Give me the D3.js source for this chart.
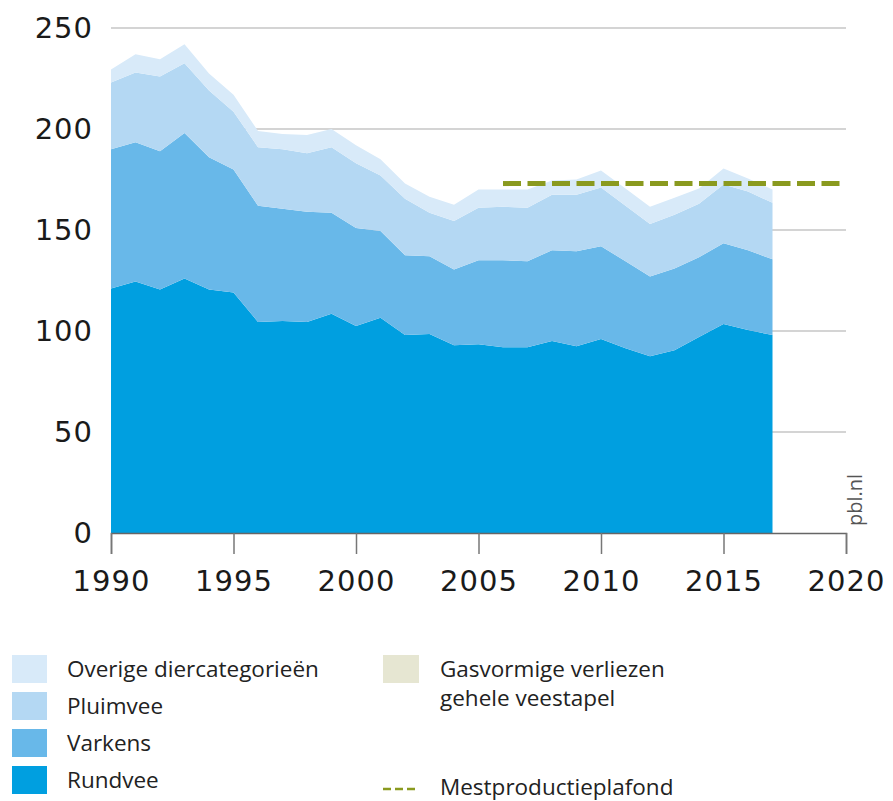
<!DOCTYPE html>
<html>
<head>
<meta charset="utf-8">
<script src="https://cdn.jsdelivr.net/npm/d3@7"></script>
<style>
  body { margin: 0; background: #fff; }
  svg { display: block; }
</style>
</head>
<body>
<div id="chart"></div>
<script>
// Years and series (kt N / jaar)
const years = d3.range(1990, 2018);
const rundvee  = [121, 124.5, 120.5, 126, 120.5, 119, 104.5, 105, 104.5, 108.5, 102.5, 106.5, 98, 98.5, 93, 93.5, 92, 92, 95, 92.5, 96, 91.5, 87.5, 90.5, 97, 103.5, 100.5, 98];
const varkens  = [69, 69, 68.5, 72, 65.5, 61, 57.5, 55.5, 54.5, 50, 48.5, 43, 39.5, 38.5, 37.5, 41.5, 43, 42.5, 45, 47, 46, 43, 39.5, 40.5, 39.5, 40, 39.5, 37.5];
const pluimvee = [33, 34.5, 37, 34.5, 33, 28.5, 29, 29.5, 29, 32.5, 32, 27.5, 28, 21.5, 24, 26, 26.5, 26.5, 27.5, 28, 29, 27.5, 26, 26.5, 26.5, 29, 29, 28];
const overige  = [6.5, 9, 8.5, 9.5, 8.5, 8.5, 8, 7.5, 9, 9, 9, 8, 7.5, 8, 8, 9, 8.5, 9, 7, 7.5, 8.5, 8.5, 8.5, 8.5, 7.5, 8, 6.5, 6.5];

const plafondYears = [2006, 2020];
const plafondValue = 173;

const yTicks = [0, 50, 100, 150, 200, 250];
const xTicks = [1990, 1995, 2000, 2005, 2010, 2015, 2020];

const keys = ["Rundvee", "Varkens", "Pluimvee", "Overige diercategorieën"];
const colors = ["#009fe0", "#68b8e9", "#b4d8f3", "#d8eaf9"];

const width = 893;
const height = 801;

const svg = d3.select("#chart")
  .append("svg")
  .attr("width", width)
  .attr("height", height);

const x = d3.scaleLinear().domain([1990, 2020]).range([111, 846]);
const y = d3.scaleLinear().domain([0, 250]).range([533, 28]);

// table for the stack
const table = years.map((yr, i) => ({
  year: yr,
  "Rundvee": rundvee[i],
  "Varkens": varkens[i],
  "Pluimvee": pluimvee[i],
  "Overige diercategorieën": overige[i]
}));

// gridlines
svg.append("g")
  .selectAll("line")
  .data(yTicks.filter(d => d > 0))
  .enter()
  .append("line")
  .attr("x1", x(1990))
  .attr("x2", x(2020))
  .attr("y1", d => y(d))
  .attr("y2", d => y(d))
  .attr("stroke", "#d4d4d4")
  .attr("stroke-width", 2);

// stacked areas
const stack = d3.stack().keys(keys);
const series = stack(table);

const area = d3.area()
  .x(d => x(d.data.year))
  .y0(d => y(d[0]))
  .y1(d => y(d[1]));

svg.append("g")
  .selectAll("path")
  .data(series)
  .enter()
  .append("path")
  .attr("d", area)
  .attr("fill", (d, i) => colors[i]);

// mestproductieplafond
svg.append("line")
  .attr("x1", x(plafondYears[0]))
  .attr("x2", x(plafondYears[1]) - 4)
  .attr("y1", y(plafondValue))
  .attr("y2", y(plafondValue))
  .attr("stroke", "#8a9a1f")
  .attr("stroke-width", 5)
  .attr("stroke-dasharray", "18,6.5");

// x axis
const xAxis = svg.append("g")
  .attr("transform", `translate(0, ${y(0)})`)
  .call(d3.axisBottom(x).tickValues(xTicks).tickFormat(d3.format("d")).tickSize(21).tickPadding(16));

xAxis.select(".domain").attr("stroke", "#666").attr("stroke-width", 1.5);
xAxis.selectAll(".tick line").attr("stroke", "#777").attr("stroke-width", 1.5);
xAxis.selectAll(".tick text")
  .attr("fill", "#1a1a1a")
  .style("font-family", "'DejaVu Sans', sans-serif")
  .style("font-size", "29px")
  .style("letter-spacing", "1px");

// y labels
svg.append("g")
  .selectAll("text")
  .data(yTicks)
  .enter()
  .append("text")
  .attr("x", 93)
  .attr("y", d => y(d))
  .attr("dy", "0.36em")
  .attr("text-anchor", "end")
  .attr("fill", "#1a1a1a")
  .style("font-family", "'DejaVu Sans', sans-serif")
  .style("font-size", "29px")
  .style("letter-spacing", "1px")
  .text(d => d);

// pbl.nl
svg.append("text")
  .attr("transform", `translate(862, 526) rotate(-90)`)
  .attr("fill", "#555")
  .style("font-family", "'Open Sans', sans-serif")
  .style("font-size", "20px")
  .text("pbl.nl");

// legend
const legendFont = "'Open Sans', sans-serif";
const legendItems = [
  { label: "Overige diercategorieën", color: colors[3] },
  { label: "Pluimvee", color: colors[2] },
  { label: "Varkens", color: colors[1] },
  { label: "Rundvee", color: colors[0] }
];

const legend = svg.append("g");

legend.selectAll("rect")
  .data(legendItems)
  .enter()
  .append("rect")
  .attr("x", 12)
  .attr("y", (d, i) => 655 + i * 37)
  .attr("width", 35)
  .attr("height", 28)
  .attr("fill", d => d.color);

legend.selectAll("text")
  .data(legendItems)
  .enter()
  .append("text")
  .attr("x", 67)
  .attr("y", (d, i) => 669 + i * 37)
  .attr("dy", "0.35em")
  .attr("fill", "#222")
  .style("font-family", legendFont)
  .style("font-size", "22.5px")
  .text(d => d.label);

legend.append("rect")
  .attr("x", 383)
  .attr("y", 655)
  .attr("width", 36)
  .attr("height", 28)
  .attr("fill", "#e6e6d2");

const gas = legend.append("text")
  .attr("fill", "#222")
  .style("font-family", legendFont)
  .style("font-size", "22.5px");
gas.append("tspan").attr("x", 440).attr("y", 677).text("Gasvormige verliezen");
gas.append("tspan").attr("x", 440).attr("y", 706).text("gehele veestapel");

legend.append("line")
  .attr("x1", 383)
  .attr("x2", 419)
  .attr("y1", 789)
  .attr("y2", 789)
  .attr("stroke", "#8a9a1f")
  .attr("stroke-width", 2.5)
  .attr("stroke-dasharray", "8,4");

legend.append("text")
  .attr("x", 440)
  .attr("y", 787)
  .attr("dy", "0.35em")
  .attr("fill", "#222")
  .style("font-family", legendFont)
  .style("font-size", "22.5px")
  .text("Mestproductieplafond");
</script>
</body>
</html>
